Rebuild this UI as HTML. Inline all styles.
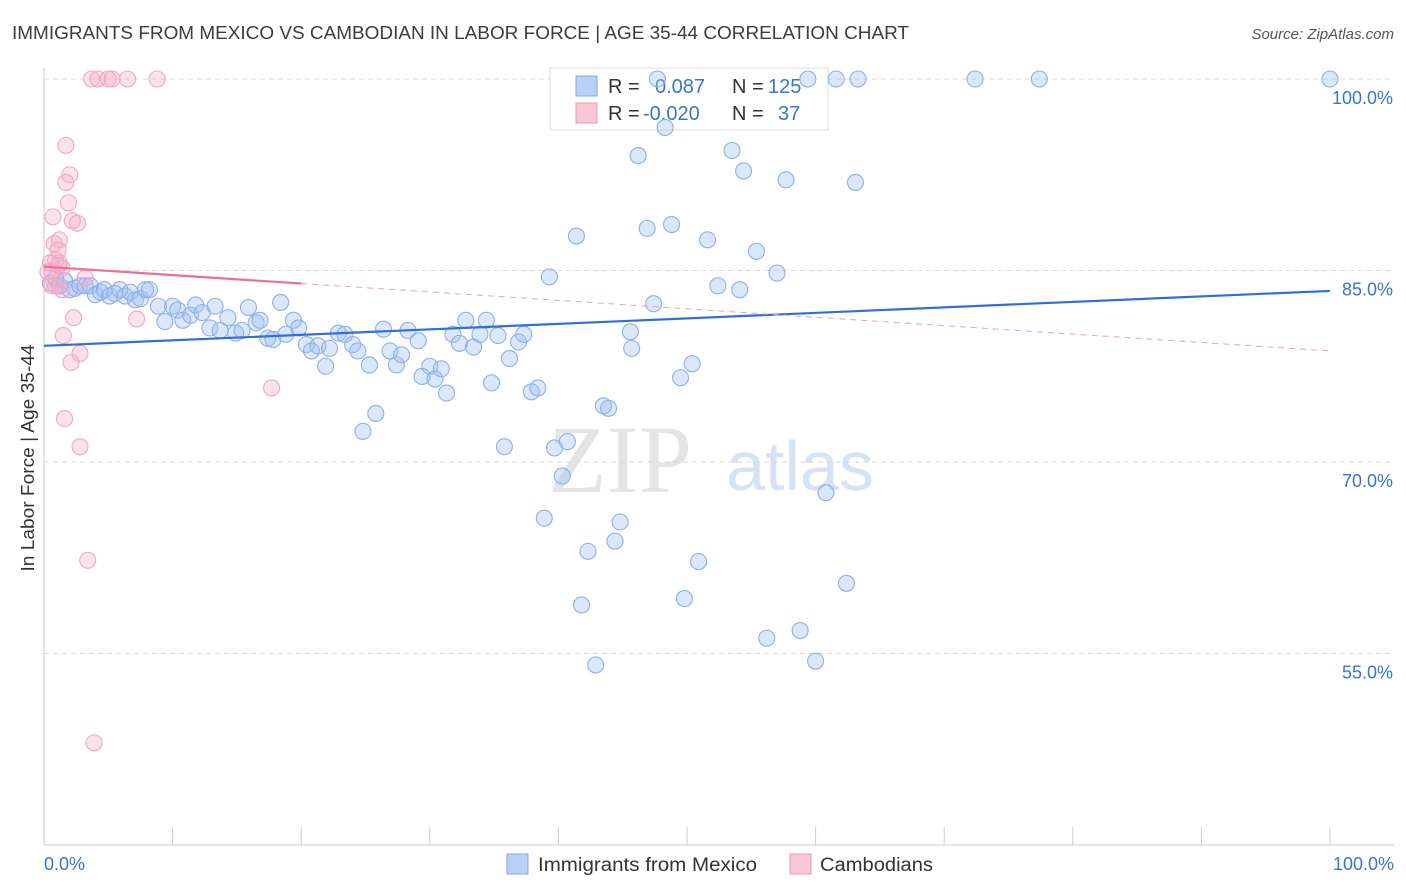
<!DOCTYPE html>
<html><head><meta charset="utf-8"><style>
body{margin:0;background:#fff;font-family:"Liberation Sans",sans-serif;}
svg{display:block}
</style></head><body>
<svg id="chart" width="1406" height="892" viewBox="0 0 1406 892">
<text x="12" y="39" font-size="18" fill="#3c3c3c" textLength="897" lengthAdjust="spacingAndGlyphs">IMMIGRANTS FROM MEXICO VS CAMBODIAN IN LABOR FORCE | AGE 35-44 CORRELATION CHART</text>
<text x="1394" y="39" font-size="15" fill="#555" text-anchor="end" font-style="italic">Source: ZipAtlas.com</text>
<text x="34" y="458" font-size="18" fill="#333" text-anchor="middle" textLength="227" lengthAdjust="spacingAndGlyphs" transform="rotate(-90 34 458)">In Labor Force | Age 35-44</text>
<text x="620" y="492" font-size="96" fill="#e4e4e4" font-family="Liberation Serif,serif" text-anchor="middle">ZIP</text>
<text x="800" y="490" font-size="70" fill="#d5e3f5" text-anchor="middle">atlas</text>
<g id="grid"></g>
<g id="axes"></g>
<g>
<rect x="550" y="68" width="278" height="62" fill="#fff" stroke="#ddd"/>
<rect x="576" y="76" width="21" height="20" fill="#b9d1f5" stroke="#7fa7e6"/>
<rect x="576" y="103" width="21" height="20" fill="#fac7d6" stroke="#ee97b3"/>
<text x="608" y="93" font-size="20" fill="#333">R =</text>
<text x="655" y="93" font-size="20" fill="#3a73d0">0.087</text>
<text x="732" y="93" font-size="20" fill="#333">N =</text>
<text x="768" y="93" font-size="20" fill="#3a73d0">125</text>
<text x="608" y="120" font-size="20" fill="#333">R =</text>
<text x="643" y="120" font-size="20" fill="#3a73d0">-0.020</text>
<text x="732" y="120" font-size="20" fill="#333">N =</text>
<text x="778" y="120" font-size="20" fill="#3a73d0">37</text>
</g>
<g id="pts"></g>
<g id="trends"></g>
<g>
<rect x="507" y="854" width="21" height="20" fill="#b9d1f5" stroke="#7fa7e6"/>
<text x="538" y="871" font-size="19" fill="#333" textLength="219" lengthAdjust="spacingAndGlyphs">Immigrants from Mexico</text>
<rect x="790" y="854" width="21" height="20" fill="#fac7d6" stroke="#ee97b3"/>
<text x="820" y="871" font-size="19" fill="#333" textLength="113" lengthAdjust="spacingAndGlyphs">Cambodians</text>
</g>
</svg>
<script>
const xTicks=[0,10,20,30,40,50,60,70,80,90,100];
const yTicks=[55,70,85,100];
const yTickLabels=["55.0%","70.0%","85.0%","100.0%"];
const xEndLabels=["0.0%","100.0%"];
const mexicoX=[0.5,0.9,1.2,1.6,2.0,2.4,2.8,3.2,3.6,4.0,4.4,4.7,5.1,5.5,5.9,6.3,6.7,7.1,7.5,7.9,8.2,8.9,9.4,10.0,10.4,10.8,11.4,11.8,12.3,12.9,13.3,13.7,14.3,14.9,15.4,15.9,16.5,16.8,17.4,17.8,18.4,18.8,19.4,19.8,20.4,20.8,21.3,21.9,22.2,22.9,23.4,24.0,24.4,24.8,25.3,25.8,26.4,26.9,27.4,27.8,28.3,29.1,29.4,30.0,30.4,30.9,31.3,31.8,32.3,32.8,33.4,33.9,34.4,34.8,35.3,35.8,36.2,36.9,37.3,37.9,38.4,38.9,39.3,39.7,40.3,40.7,41.4,41.8,42.3,42.9,43.5,43.9,44.4,44.8,45.6,45.7,46.2,46.9,47.4,47.7,48.3,48.8,49.5,49.8,50.4,50.9,51.6,52.4,53.5,54.1,54.4,55.4,56.2,57.0,57.7,58.8,59.4,60.0,60.8,61.6,62.4,63.1,63.3,72.4,77.4,100];
const mexicoY=[84.0,84.4,83.8,84.2,83.5,83.6,83.8,83.8,83.8,83.1,83.3,83.5,83.0,83.2,83.5,83.0,83.3,82.7,82.8,83.5,83.5,82.2,81.0,82.2,81.9,81.1,81.5,82.3,81.7,80.5,82.2,80.3,81.3,80.1,80.3,82.1,80.9,81.1,79.7,79.6,82.5,80.0,81.1,80.5,79.2,78.7,79.1,77.5,78.9,80.1,80.0,79.2,78.7,72.4,77.6,73.8,80.4,78.7,77.6,78.4,80.3,79.5,76.7,77.5,76.5,77.3,75.4,80.0,79.3,81.1,79.0,80.0,81.1,76.2,79.9,71.2,78.1,79.4,80.0,75.5,75.8,65.6,84.5,71.1,68.9,71.6,87.7,58.8,63.0,54.1,74.4,74.2,63.8,65.3,80.2,78.9,94.0,88.3,82.4,100,96.2,88.6,76.6,59.3,77.7,62.2,87.4,83.8,94.4,83.5,92.8,86.5,56.2,84.8,92.1,56.8,100,54.4,67.6,100,60.5,91.9,100,100,100,100];
const cambX=[0.6,0.7,0.8,0.9,1.1,1.2,1.4,1.7,1.7,1.9,2.0,2.2,2.3,2.6,2.8,3.2,3.4,3.9,3.7,4.2,5.0,5.3,6.5,8.8,7.2,17.7,1.6,2.8,1.5,2.1,1.1,0.5,0.9,1.4,0.6,1.2,0.3];
const cambY=[85.0,89.2,87.1,85.8,85.4,87.4,85.2,94.8,91.9,90.3,92.5,88.9,81.3,88.7,78.5,84.4,62.3,48.0,100,100,100,100,100,100,81.2,75.8,73.4,71.2,79.9,77.8,86.6,85.6,83.8,83.5,83.8,85.6,84.9];
const trendMexico=[79.1,83.4];
const trendCamb=[85.3,78.7];
const cambSolidEnd=20;

const X0=44,X1=1330,Ytop=79,Ybot=845;
const sx=v=>X0+(X1-X0)*v/100;
const sy=v=>Ytop+(100-v)*(Ybot-Ytop)/60;
const NS="http://www.w3.org/2000/svg";
function mk(tag,attrs,parent){const e=document.createElementNS(NS,tag);for(const k in attrs)e.setAttribute(k,attrs[k]);parent.appendChild(e);return e;}
const grid=document.getElementById('grid'),axes=document.getElementById('axes'),pts=document.getElementById('pts'),tr=document.getElementById('trends');
yTicks.forEach((t,i)=>{
  const l=mk('line',{x1:X0,x2:1394,y1:sy(t),y2:sy(t),stroke:'#d8d8d8','stroke-dasharray':'5,4'},grid);
  
  
  const tx=mk('text',{x:1393,y:sy(t)+25,'font-size':18,fill:'#3a73d0','text-anchor':'end'},axes);
  tx.textContent=yTickLabels[i];
  
  
});
const ax=mk('line',{x1:X0,x2:1394,y1:Ybot,y2:Ybot,stroke:'#ccc'},axes);


const ay=mk('line',{x1:X0,x2:X0,y1:68,y2:Ybot,stroke:'#ccc'},axes);


xTicks.forEach(t=>{
  const l=mk('line',{x1:sx(t),x2:sx(t),y1:827,y2:Ybot,stroke:'#ccc'},axes);
  
  
});
[[0,'start',44],[100,'end',1394]].forEach((d,i)=>{
  const tx=mk('text',{x:d[2],y:870,'font-size':18,fill:'#3a73d0','text-anchor':d[1]},axes);
  tx.textContent=xEndLabels[i];
  
  
});
mexicoX.forEach((x,i)=>{
  const c=mk('circle',{cx:sx(x),cy:sy(mexicoY[i]),r:8,fill:'rgba(160,192,242,0.38)',stroke:'#8cb0ea','stroke-width':1.1},pts);
  
  
});
cambX.forEach((x,i)=>{
  const c=mk('circle',{cx:sx(x),cy:sy(cambY[i]),r:8,fill:'rgba(246,172,200,0.35)',stroke:'#f2a6c0','stroke-width':1.1},pts);
  
  
});
const tm=mk('line',{x1:sx(0),y1:sy(trendMexico[0]),x2:sx(100),y2:sy(trendMexico[1]),stroke:'#2f6fd6','stroke-width':2.2},tr);


const cy=x=>trendCamb[0]+(trendCamb[1]-trendCamb[0])*x/100;
const tc=mk('line',{x1:sx(0),y1:sy(cy(0)),x2:sx(cambSolidEnd),y2:sy(cy(cambSolidEnd)),stroke:'#e8709a','stroke-width':2.2},tr);


const td=mk('line',{x1:sx(cambSolidEnd),y1:sy(cy(cambSolidEnd)),x2:sx(100),y2:sy(cy(100)),stroke:'#eca0b8','stroke-width':1,'stroke-dasharray':'6,5'},tr);


</script>
</body></html>
